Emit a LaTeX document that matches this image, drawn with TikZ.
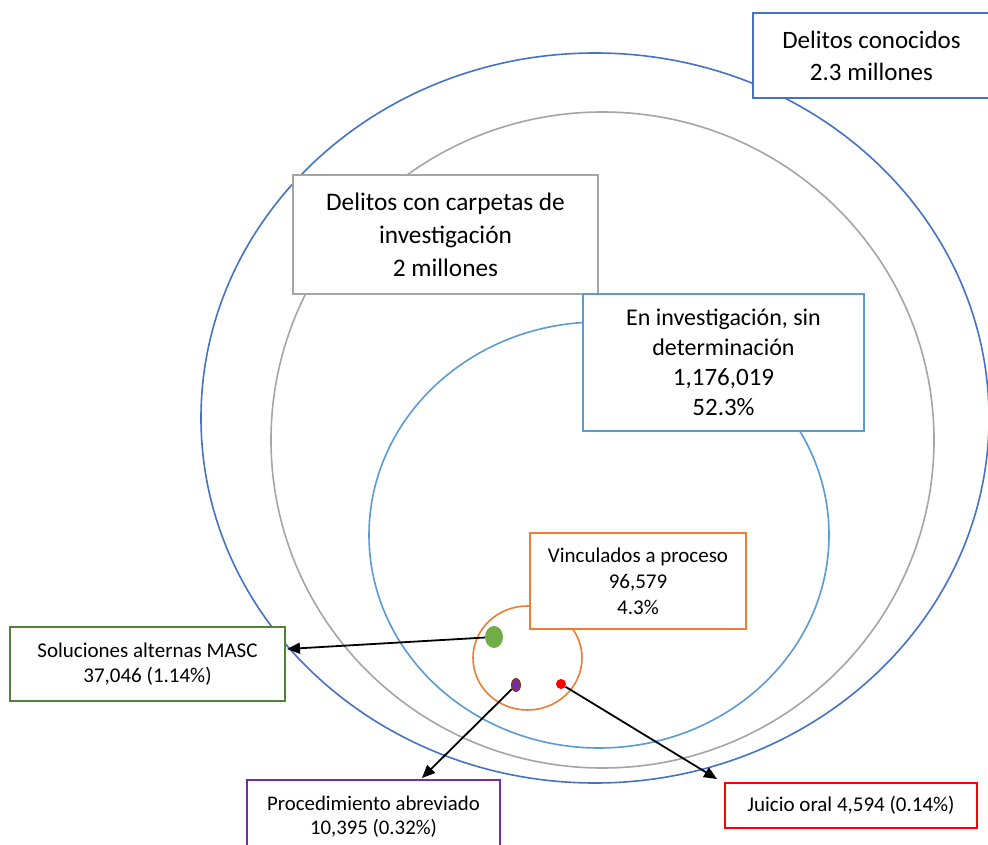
\documentclass[tikz,border=0pt]{standalone}
\usepackage{fontspec}
\setmainfont{Carlito}
\usetikzlibrary{arrows.meta,shapes.geometric}
\definecolor{dkblue}{HTML}{4472C4}
\definecolor{ltblue}{HTML}{5B9BD5}
\definecolor{grayc}{HTML}{A5A5A5}
\definecolor{orangec}{HTML}{ED7D31}
\definecolor{greendot}{HTML}{70AD47}
\definecolor{greenbox}{HTML}{548235}
\definecolor{purplec}{HTML}{7030A0}
\definecolor{browndot}{HTML}{843C0C}
\definecolor{redc}{HTML}{FF0000}
\tikzset{
  ring/.style={line width=1.6pt},
  box/.style={draw, fill=white, line width=1.6pt, align=center, inner sep=0pt, text=black},
  dot/.style={ellipse, inner sep=0pt},
  arr/.style={draw=black, line width=1.8pt, -{Triangle[length=13pt,width=11pt]}},
}
\begin{document}
\begin{tikzpicture}[x=1pt,y=-1pt]
\useasboundingbox (0,0) rectangle (988,845);
\fill[white] (0,0) rectangle (988,845);
% nested sets
\draw[ring, dkblue] (595,418) ellipse [x radius=394pt, y radius=365pt];
\draw[ring, grayc] (602.5,440) ellipse [x radius=331.5pt, y radius=328pt];
\draw[ring, ltblue] (599,535) ellipse [x radius=230pt, y radius=213pt];
\draw[ring, orangec] (527.5,658) ellipse [x radius=54.5pt, y radius=52pt];
% boxes
\node[box, draw=dkblue, minimum width=237pt, minimum height=85pt,
  font=\fontsize{25}{32}\selectfont] (known) at (871.5,55.5)
  {Delitos conocidos\\2.3 millones};
\node[box, draw=grayc, minimum width=305pt, minimum height=119pt,
  font=\fontsize{25.3}{33}\selectfont] (carp) at (445.5,234.5)
  {Delitos con carpetas de\\investigación\\2 millones};
\node[box, draw=ltblue, minimum width=281pt, minimum height=137pt,
  font=\fontsize{24}{30}\selectfont] (inv) at (723.5,362.5)
  {En investigación, sin\\determinación\\{\fontsize{25}{30}\selectfont 1,176,019}\\{\fontsize{25}{30}\selectfont 52.3\%}};
\node[box, draw=orangec, minimum width=216pt, minimum height=96pt,
  font=\fontsize{21}{26}\selectfont] (vinc) at (638,581)
  {Vinculados a proceso\\96,579\\4.3\%};
\node[box, draw=greenbox, minimum width=275pt, minimum height=74pt,
  font=\fontsize{21}{25}\selectfont] (masc) at (147.5,664)
  {Soluciones alternas MASC\\37,046 (1.14\%)};
\node[box, draw=purplec, minimum width=253pt, minimum height=74pt,
  font=\fontsize{20.8}{24}\selectfont] (abrev) at (373.5,817)
  {Procedimiento abreviado\\10,395 (0.32\%)};
\node[box, draw=redc, minimum width=252pt, minimum height=45pt,
  font=\fontsize{21}{24}\selectfont] (juicio) at (851,805.5)
  {Juicio oral 4,594 (0.14\%)};
% dots
\node[dot, fill=greendot, minimum width=18pt, minimum height=22pt] (gdot) at (494,637) {};
\node[dot, fill=purplec, draw=browndot, line width=1pt, minimum width=9pt, minimum height=13pt] (pdot) at (516,685) {};
\node[dot, fill=redc, minimum width=10pt, minimum height=10pt] (rdot) at (561,684) {};
% arrow end points
\coordinate (gtip) at (287,649);
\coordinate (ptip) at (422,778);
\coordinate (rtip) at (717,779);
\draw[arr] (gdot) -- (gtip);
\draw[arr] (pdot) -- (ptip);
\draw[arr] (rdot) -- (rtip);
\end{tikzpicture}
\end{document}
